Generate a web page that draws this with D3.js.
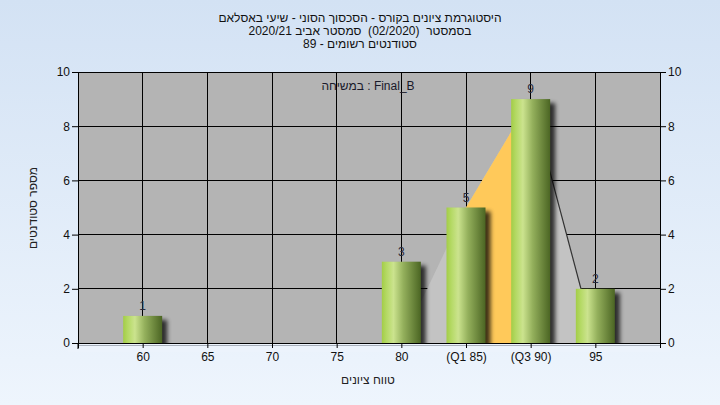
<!DOCTYPE html>
<html><head><meta charset="utf-8">
<script src="https://cdn.jsdelivr.net/npm/d3@7"></script>
<style>
html,body{margin:0;padding:0;}
svg{display:block;font-family:"Liberation Sans",Arial,sans-serif;}
</style></head>
<body>
<svg id="chart" width="720" height="405"></svg>
<script>
const titleLines = [
  "היסטוגרמת ציונים בקורס - הסכסוך הסוני - שיעי באסלאם",
  "בסמסטר  (02/2020)  סמסטר אביב 2020/21",
  "סטודנטים רשומים - 89"
];
const categories = ["60","65","70","75","80","(Q1 85)","(Q3 90)","95"];
const grades = [60,65,70,75,80,85,90,95];
const counts = [1,0,0,0,3,5,9,2];
const curveGrades = [80,85,90,95];
const curveValues = [0,5,9,0];
const q1 = 85, q3 = 90;
const yTicks = [0,2,4,6,8,10];
const legendText = "במשיחה : Final_B";
const xTitle = "טווח ציונים";
const yTitle = "מספר סטודנטים";

const svg = d3.select("#chart");
const W = 720, H = 405;
const L = 78, R = 660, T = 72, B = 343;

const defs = svg.append("defs");
const bg = defs.append("linearGradient").attr("id","bg").attr("x1",0).attr("y1",0).attr("x2",0).attr("y2",1);
bg.append("stop").attr("offset","0%").attr("stop-color","#d3e2f4");
bg.append("stop").attr("offset","100%").attr("stop-color","#eef5fd");
const bar = defs.append("linearGradient").attr("id","bar").attr("x1",0).attr("y1",0).attr("x2",1).attr("y2",0);
[["0%","#a3cd47"],["12%","#b4d964"],["30%","#cbe38e"],["55%","#94b05c"],["100%","#4b6523"]].forEach(s=>
  bar.append("stop").attr("offset",s[0]).attr("stop-color",s[1]));
const sh = defs.append("filter").attr("id","shadow").attr("x","-30%").attr("y","-30%").attr("width","160%").attr("height","160%");
sh.append("feGaussianBlur").attr("stdDeviation",2.2);

svg.append("rect").attr("width",W).attr("height",H).attr("fill","url(#bg)");

const x = d3.scaleLinear().domain([55,100]).range([L,R]);
const y = d3.scaleLinear().domain([0,10]).range([B,T]);

svg.append("rect").attr("x",L).attr("y",T).attr("width",R-L).attr("height",B-T).attr("fill","#b4b4b4");

const g = svg.append("g");
g.selectAll("line.h").data(yTicks.filter(d=>d>0)).join("line")
  .attr("x1",L).attr("x2",R).attr("y1",d=>y(d)).attr("y2",d=>y(d))
  .attr("stroke","#000").attr("stroke-width",1).attr("shape-rendering","crispEdges");
g.selectAll("line.v").data(grades).join("line")
  .attr("x1",d=>x(d)).attr("x2",d=>x(d)).attr("y1",T).attr("y2",B)
  .attr("stroke","#000").attr("stroke-width",1).attr("shape-rendering","crispEdges");

const pts = curveGrades.map((gv,i)=>[x(gv),y(curveValues[i])]);
svg.append("path")
  .attr("d", d3.line()(pts.concat([[x(curveGrades[0]),y(0)]])))
  .attr("fill","#c3c3c3");
const qi1 = curveGrades.indexOf(q1), qi3 = curveGrades.indexOf(q3);
const orangePts = [[x(q1),y(0)]].concat(pts.slice(qi1,qi3+1)).concat([[x(q3),y(0)]]);
svg.append("path").attr("d", d3.line()(orangePts)).attr("fill","#ffc95a");
svg.append("path").attr("d", d3.line()(pts.slice(qi3))).attr("fill","none")
  .attr("stroke","#333").attr("stroke-width",1.2);

const bw = 39;
const data = grades.map((gv,i)=>({g:gv,c:counts[i]})).filter(d=>d.c>0);
svg.append("g").selectAll("rect").data(data).join("rect")
  .attr("x",d=>x(d.g)-bw/2+5).attr("y",d=>y(d.c)+4).attr("width",bw).attr("height",d=>y(0)-y(d.c))
  .attr("fill","#000").attr("opacity",0.75).attr("filter","url(#shadow)");
svg.append("g").selectAll("rect").data(data).join("rect")
  .attr("x",d=>x(d.g)-bw/2).attr("y",d=>y(d.c)).attr("width",bw).attr("height",d=>y(0)-y(d.c))
  .attr("fill","url(#bar)");

svg.append("rect").attr("x",L-10).attr("y",B+1).attr("width",R-L+20).attr("height",8).attr("fill","#ecf3fc");
svg.append("line").attr("x1",L).attr("x2",R).attr("y1",B+2).attr("y2",B+2).attr("stroke","#a8b0bb").attr("shape-rendering","crispEdges");

svg.append("g").selectAll("text").data(data).join("text")
  .attr("x",d=>x(d.g)).attr("y",d=>y(d.c)-6)
  .attr("text-anchor","middle").attr("font-size",12).attr("fill","#2a2a3a").text(d=>d.c);

const axL = d3.axisLeft(y).tickValues(yTicks).tickSize(6).tickPadding(2);
const axR = d3.axisRight(y).tickValues(yTicks).tickSize(6).tickPadding(2);
const axB = d3.axisBottom(x).tickValues(grades).tickFormat((d,i)=>categories[i]).tickSize(5).tickPadding(4);
function style(sel){
  sel.select(".domain").attr("stroke","#000");
  sel.selectAll(".tick line").attr("stroke","#000");
  sel.selectAll("text").attr("font-size",12).attr("fill","#111").attr("font-family","'Liberation Sans',Arial,sans-serif");
}
svg.append("g").attr("transform",`translate(${L},0)`).call(axL).call(style);
svg.append("g").attr("transform",`translate(${R},0)`).call(axR).call(style);
svg.append("g").attr("transform",`translate(0,${B})`).call(axB).call(style);
svg.append("line").attr("x1",L).attr("x2",R).attr("y1",T).attr("y2",T).attr("stroke","#000").attr("shape-rendering","crispEdges");
svg.append("line").attr("x1",L).attr("x2",L).attr("y1",B).attr("y2",B+6).attr("stroke","#000");

svg.append("g").selectAll("text").data(titleLines).join("text")
  .attr("x",360).attr("y",(d,i)=>22+i*13).attr("text-anchor","middle")
  .attr("direction","rtl").attr("unicode-bidi","embed")
  .style("white-space","pre")
  .attr("font-size",12).attr("fill","#111").text(d=>d);

svg.append("text").attr("x",368).attr("y",90).attr("text-anchor","middle")
  .attr("font-size",12).attr("fill","#1a1a2a").text(legendText);

svg.append("text").attr("x",368).attr("y",384).attr("text-anchor","middle")
  .attr("font-size",12).attr("fill","#222").text(xTitle);
svg.append("text").attr("transform","translate(37,208) rotate(-90)").attr("text-anchor","middle")
  .attr("font-size",12).attr("fill","#222").text(yTitle);
</script>
</body></html>
